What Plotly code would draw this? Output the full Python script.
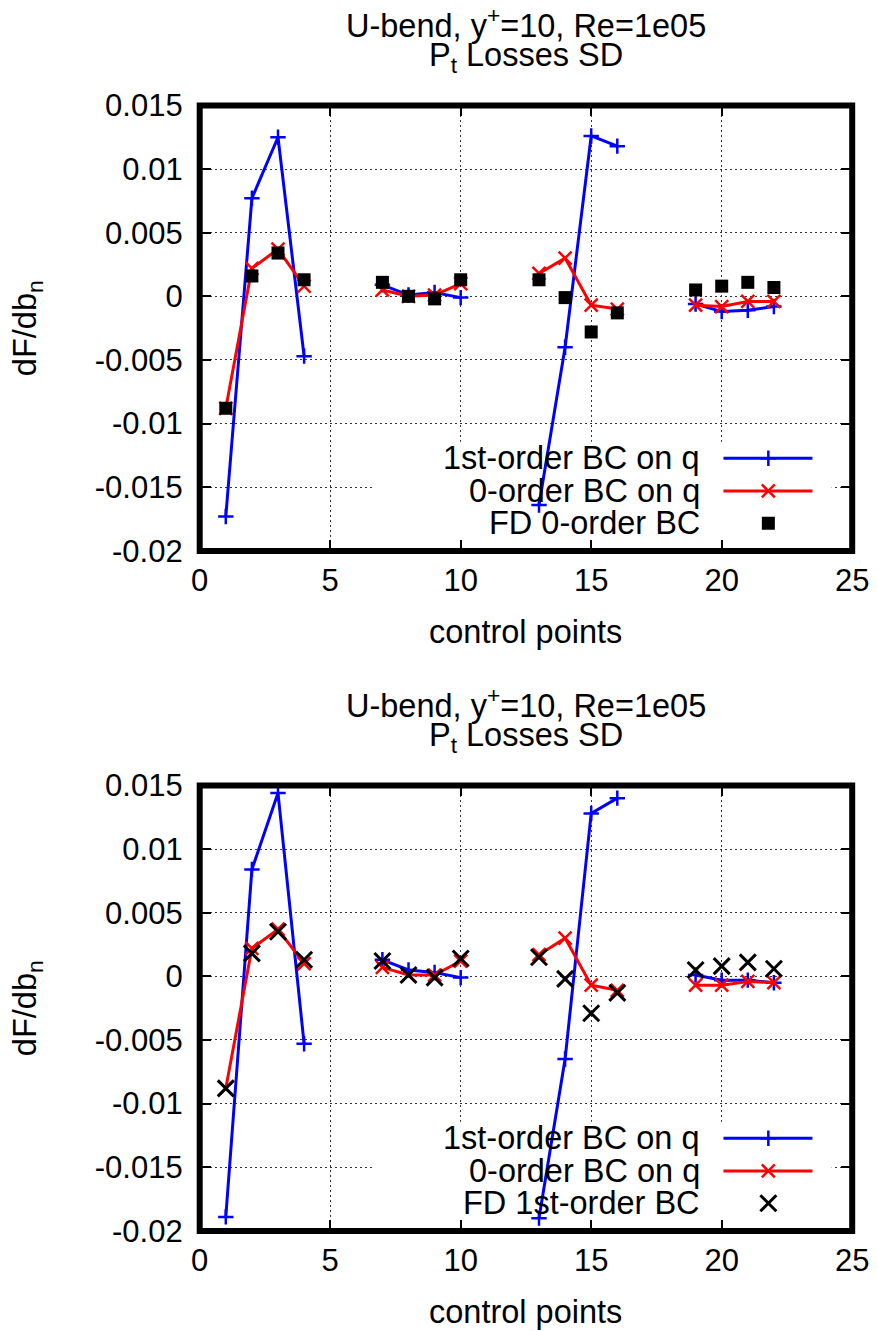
import plotly.graph_objects as go

# ---- data -----------------------------------------------------------------
control_points = [1, 2, 3, 4, 7, 8, 9, 10, 13, 14, 15, 16, 19, 20, 21, 22]

# upper panel: adjoint gradients vs FD with 0-order BC
top_first_order = [-0.0173, 0.0077, 0.0125, -0.0047, 0.0009, 0.0001, 0.0003, -0.0001,
                   -0.0164, -0.0040, 0.0126, 0.0118, -0.0006, -0.0012, -0.0011, -0.0008]
top_zero_order = [-0.0088, 0.0022, 0.0037, 0.0008, 0.0005, 0.0000, 0.0001, 0.0010,
                  0.0018, 0.0030, -0.0007, -0.0010, -0.0007, -0.0008, -0.0004, -0.0004]
top_fd = [-0.0088, 0.0016, 0.0034, 0.0013, 0.0011, 0.0000, -0.0002, 0.0013,
          0.0013, -0.0001, -0.0028, -0.0013, 0.0005, 0.0008, 0.0011, 0.0007]

# lower panel: adjoint gradients vs FD with 1st-order BC
bot_first_order = [-0.0189, 0.0084, 0.0144, -0.0053, 0.0013, 0.0005, 0.0003, -0.0001,
                   -0.0190, -0.0065, 0.0128, 0.0140, 0.0001, -0.0003, -0.0003, -0.0005]
bot_zero_order = [-0.0088, 0.0022, 0.0037, 0.0010, 0.0007, 0.0001, 0.0001, 0.0012,
                  0.0017, 0.0030, -0.0007, -0.0011, -0.0007, -0.0007, -0.0004, -0.0005]
bot_fd = [-0.0088, 0.0018, 0.0035, 0.0013, 0.0012, 0.0001, -0.0001, 0.0014,
          0.0015, -0.0002, -0.0029, -0.0013, 0.0005, 0.0008, 0.0011, 0.0006]

x_ticks = [0, 5, 10, 15, 20, 25]
y_ticks = [0.015, 0.01, 0.005, 0, -0.005, -0.01, -0.015, -0.02]
y_tick_labels = ["0.015", "0.01", "0.005", "0", "-0.005", "-0.01", "-0.015", "-0.02"]
x_range = [0, 25]
y_range = [-0.02, 0.015]

title_line1 = "U-bend, y<sup>+</sup>=10, Re=1e05"
title_line2 = "P<sub>t</sub> Losses SD"
x_title = "control points"
y_title = "dF/db<sub>n</sub>"
legend_first = "1st-order BC on q"
legend_zero = "0-order BC on q"
legend_fd_top = "FD 0-order BC"
legend_fd_bot = "FD 1st-order BC"

# ---- styling ----------------------------------------------------------------
FONT = "Liberation Sans, Arial, sans-serif"
FS = 32.5       # titles, key text
FS_TICK = 31
W, H = 877, 1331
BLUE, RED, BLACK = "#0000ff", "#ff0000", "#000000"

x_dom = [199.7 / W, 852.2 / W]
panels = [
    dict(first=top_first_order, zero=top_zero_order, fd=top_fd, fd_name=legend_fd_top,
         fd_marker=dict(symbol="square", size=13, color=BLACK),
         top=105.4, bottom=550.9, xa="x", ya="y", kx="x3", ky="y3"),
    dict(first=bot_first_order, zero=bot_zero_order, fd=bot_fd, fd_name=legend_fd_bot,
         fd_marker=dict(symbol="x-thin", size=16, color=BLACK, line=dict(color=BLACK, width=3)),
         top=785.4, bottom=1230.9, xa="x2", ya="y2", kx="x4", ky="y4"),
]

blue_marker = dict(symbol="cross-thin", size=11, color=BLUE, line=dict(color=BLUE, width=2.5))
red_marker = dict(symbol="x-thin", size=13, color=RED, line=dict(color=RED, width=2.5))


def with_breaks(xs, ys):
    """Insert None where control points jump, so each group is drawn separately."""
    bx, by = [], []
    for i, (x, y) in enumerate(zip(xs, ys)):
        if i and x - xs[i - 1] > 1:
            bx.append(None)
            by.append(None)
        bx.append(x)
        by.append(y)
    return bx, by


def frac_to_axis(frac, rng):
    return rng[0] + frac * (rng[1] - rng[0])


fig = go.Figure()
annotations = []
shapes = []

# key layout, in axis-domain fractions
key_rows = [0.2079, 0.1345, 0.062]
key_text_x = 0.7693
key_line = [0.8027, 0.9391]
key_mark = 0.8715
key_box = dict(x0=0.266, x1=0.9686, y0=0.0, y1=0.245)

for p in panels:
    # opaque key box: covers the grid, stays beneath the curves
    bx0 = frac_to_axis(key_box["x0"], x_range)
    bx1 = frac_to_axis(key_box["x1"], x_range)
    by0 = frac_to_axis(key_box["y0"], y_range)
    by1 = frac_to_axis(key_box["y1"], y_range)
    fig.add_trace(go.Scatter(x=[bx0, bx1, bx1, bx0, bx0], y=[by0, by0, by1, by1, by0],
                             mode="lines", fill="toself", fillcolor="white",
                             line=dict(width=0, color="white"), xaxis=p["xa"], yaxis=p["ya"],
                             showlegend=False, hoverinfo="skip"))

    xs, ys = with_breaks(control_points, p["first"])
    fig.add_trace(go.Scatter(x=xs, y=ys, mode="lines+markers", xaxis=p["xa"], yaxis=p["ya"],
                             line=dict(color=BLUE, width=3), marker=blue_marker,
                             connectgaps=False, showlegend=False))
    xs, ys = with_breaks(control_points, p["zero"])
    fig.add_trace(go.Scatter(x=xs, y=ys, mode="lines+markers", xaxis=p["xa"], yaxis=p["ya"],
                             line=dict(color=RED, width=3), marker=red_marker,
                             connectgaps=False, showlegend=False))
    fig.add_trace(go.Scatter(x=control_points, y=p["fd"], mode="markers",
                             xaxis=p["xa"], yaxis=p["ya"], marker=p["fd_marker"],
                             showlegend=False))

    # key samples on an overlay axis pair spanning [0, 1]
    samples = [(BLUE, blue_marker, True), (RED, red_marker, True), (BLACK, p["fd_marker"], False)]
    for row, (col, mk, has_line) in zip(key_rows, samples):
        if has_line:
            fig.add_trace(go.Scatter(x=key_line, y=[row, row], mode="lines",
                                     xaxis=p["kx"], yaxis=p["ky"],
                                     line=dict(color=col, width=3), showlegend=False,
                                     hoverinfo="skip"))
        fig.add_trace(go.Scatter(x=[key_mark], y=[row], mode="markers",
                                 xaxis=p["kx"], yaxis=p["ky"], marker=mk,
                                 showlegend=False, hoverinfo="skip"))

    xref_d = p["xa"] + " domain"
    yref_d = p["ya"] + " domain"
    for row, txt in zip(key_rows, [legend_first, legend_zero, p["fd_name"]]):
        annotations.append(dict(text=txt, xref=xref_d, yref=yref_d, x=key_text_x, y=row,
                                xanchor="right", yanchor="middle", showarrow=False,
                                font=dict(family=FONT, size=FS, color=BLACK)))

    # heavy border frame
    shapes.append(dict(type="rect", xref=xref_d, yref=yref_d, x0=0, x1=1, y0=0, y1=1,
                       line=dict(color=BLACK, width=6), layer="above"))

    # titles
    cx = (x_dom[0] + x_dom[1]) / 2
    for txt, ypx in [(title_line1, p["top"] - 82), (title_line2, p["top"] - 48)]:
        annotations.append(dict(text=txt, xref="paper", yref="paper", x=cx, y=1 - ypx / H,
                                xanchor="center", yanchor="middle", showarrow=False,
                                font=dict(family=FONT, size=FS, color=BLACK)))
    annotations.append(dict(text=x_title, xref="paper", yref="paper", x=cx,
                            y=1 - (p["bottom"] + 81) / H, xanchor="center", yanchor="middle",
                            showarrow=False, font=dict(family=FONT, size=FS, color=BLACK)))
    annotations.append(dict(text=y_title, xref="paper", yref="paper", x=27 / W,
                            y=1 - (p["top"] + p["bottom"]) / 2 / H, xanchor="center",
                            yanchor="middle", textangle=-90, showarrow=False,
                            font=dict(family=FONT, size=FS, color=BLACK)))

grid = dict(showgrid=True, gridcolor="#333333", gridwidth=1, griddash="2px,3px",
            zeroline=False, showline=False, ticks="inside", ticklen=11, tickwidth=2,
            tickcolor=BLACK, mirror="ticks", automargin=False,
            tickfont=dict(family=FONT, size=FS_TICK, color=BLACK))

layout = dict(width=W, height=H, margin=dict(l=0, r=0, t=0, b=0, autoexpand=False),
              paper_bgcolor="white", plot_bgcolor="white", template="none",
              annotations=annotations, shapes=shapes, showlegend=False)

for p, xn, yn, kxn, kyn in [(panels[0], "xaxis", "yaxis", "xaxis3", "yaxis3"),
                            (panels[1], "xaxis2", "yaxis2", "xaxis4", "yaxis4")]:
    y_dom = [1 - p["bottom"] / H, 1 - p["top"] / H]
    layout[xn] = dict(grid, domain=x_dom, range=x_range, tickvals=x_ticks,
                      anchor=p["ya"], ticklabelstandoff=8)
    layout[yn] = dict(grid, domain=y_dom, range=y_range, tickvals=y_ticks,
                      ticktext=y_tick_labels, anchor=p["xa"], ticklabelstandoff=16)
    layout[kxn] = dict(overlaying=p["xa"], range=[0, 1], visible=False, anchor=p["ky"],
                       automargin=False)
    layout[kyn] = dict(overlaying=p["ya"], range=[0, 1], visible=False, anchor=p["kx"],
                       automargin=False)

fig.update_layout(**layout)
fig.write_html("out.html")
